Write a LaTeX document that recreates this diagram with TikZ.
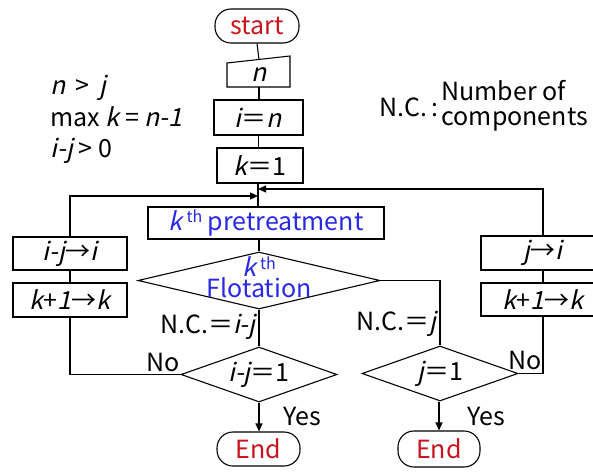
\documentclass[tikz,border=0pt]{standalone}
\usepackage{fontspec}
\setmainfont{Noto Sans CJK JP}
\newfontfamily\itf{Noto Sans CJK JP}[FakeSlant=0.22]
\usetikzlibrary{shapes.geometric,arrows.meta}
\definecolor{termred}{RGB}{200,20,30}
\definecolor{procblue}{RGB}{40,40,230}
\newcommand{\vi}[1]{{\itf #1}}
\newcommand{\fz}{\fontsize{25}{21}\selectfont}
\newcommand{\sups}{\fontsize{16}{16}\selectfont}
\begin{document}
\begin{tikzpicture}[x=1pt,y=-1pt,line width=1.1pt,
  box/.style={draw,rectangle,inner sep=0pt,font=\fz},
  term/.style={draw,rectangle,rounded corners=16pt,inner sep=0pt,font=\fz,text=termred},
  dia/.style={draw,diamond,inner sep=0pt,font=\fz},
  lbl/.style={inner sep=0pt,font=\fz},
  arr/.style={-{Triangle[length=8pt,width=7pt]}}]
\useasboundingbox (0,0) rectangle (593,471);
\clip (0,0) rectangle (593,471);
% nodes
\node[term,minimum width=84pt,minimum height=34pt] (start) at (257,26) {start};
\node[lbl] (n) at (259,75) {\vi{n}};
\draw (227,63) -- (290,56) -- (290,87) -- (227,87) -- cycle;
\coordinate (ntop) at (259,59.5);
\coordinate (nbot) at (259,87);
\node[box,minimum width=89pt,minimum height=35pt] (in) at (258.5,117.5) {\vi{i}＝\vi{n}};
\node[box,minimum width=86pt,minimum height=35pt] (k1) at (260,165.5) {\vi{k}＝1};
\node[box,minimum width=236pt,minimum height=32pt,text=procblue] (pre) at (266,223) {\vi{k}\,\raisebox{8pt}{\sups th} pretreatment};
\node[dia,minimum width=242pt,minimum height=57pt] (flo) at (259,280.5) {};
\node[lbl,text=procblue,anchor=base] (flok) at (259,276) {\vi{k}\,\raisebox{7pt}{\sups th}};
\node[lbl,text=procblue,anchor=base] (flot) at (259,297) {Flotation};
\node[dia,minimum width=156pt,minimum height=55pt,shape aspect=2.8] (ij1) at (259,374.5) {\vi{i-j}＝1};
\node[dia,minimum width=156pt,minimum height=55pt,shape aspect=2.8] (j1) at (440,373.5) {\vi{j}＝1};
\node[box,minimum width=114pt,minimum height=33pt] (lb1) at (70,253.5) {\vi{i-j}→\vi{i}};
\node[box,minimum width=114pt,minimum height=34pt] (lb2) at (70,300) {\vi{k}+\vi{1}→\vi{k}};
\node[box,minimum width=124pt,minimum height=34pt] (rb1) at (543,253) {\vi{j}→\vi{i}};
\node[box,minimum width=124pt,minimum height=33pt] (rb2) at (543,299.5) {\vi{k}+\vi{1}→\vi{k}};
\node[term,minimum width=83pt,minimum height=34pt] (end1) at (258.5,449) {End};
\node[term,minimum width=82pt,minimum height=36pt] (end2) at (439,449) {End};
% labels
\node[lbl,anchor=base west] (c1) at (50,94) {\vi{n} \,>\, \vi{j}};
\node[lbl,anchor=base west] (c2) at (50,126) {max \vi{k} = \vi{n-1}};
\node[lbl,anchor=base west] (c3) at (50,157) {\vi{i-j} > 0};
\node[lbl,anchor=base west] (nc) at (379,116) {N.C.\,:};
\node[lbl,anchor=base west] (nc1) at (441,100) {Number of};
\node[lbl,anchor=base west] (nc2) at (441,125) {components};
\node[lbl,anchor=east] (ncij) at (256,327) {N.C.＝\vi{i-j}};
\node[lbl,anchor=east] (ncj) at (437,324) {N.C.＝\vi{j}};
\node[lbl] (no1) at (163,362) {No};
\node[lbl] (no2) at (525,360) {No};
\node[lbl] (yes1) at (302,416) {Yes};
\node[lbl] (yes2) at (486,416) {Yes};
% coordinates
\coordinate (mL) at (258,196);
\coordinate (mR) at (258,189);
% connectors
\draw (start.south) -- (ntop);
\draw (nbot) -- (in.north -| nbot);
\draw (in.south) -- (k1.north -| in.south);
\draw (k1.south -| mL) -- (pre.north -| mL);
\draw (pre.south -| flo.north) -- (flo.north);
\draw (flo.south) -- (ij1.north -| flo.south);
\draw (flo.east) -| (j1.north);
\draw (ij1.west) -| (lb2.south);
\draw (lb2.north) -- (lb1.south);
\draw[arr] (lb1.north) |- (mL);
\draw (j1.east) -| (rb2.south);
\draw (rb2.north) -- (rb1.south);
\draw[arr] (rb1.north) |- (mR);
\draw[arr] (ij1.south) -- (end1.north -| ij1.south);
\draw[arr] (j1.south -| end2.north) -- (end2.north);
\end{tikzpicture}
\end{document}
